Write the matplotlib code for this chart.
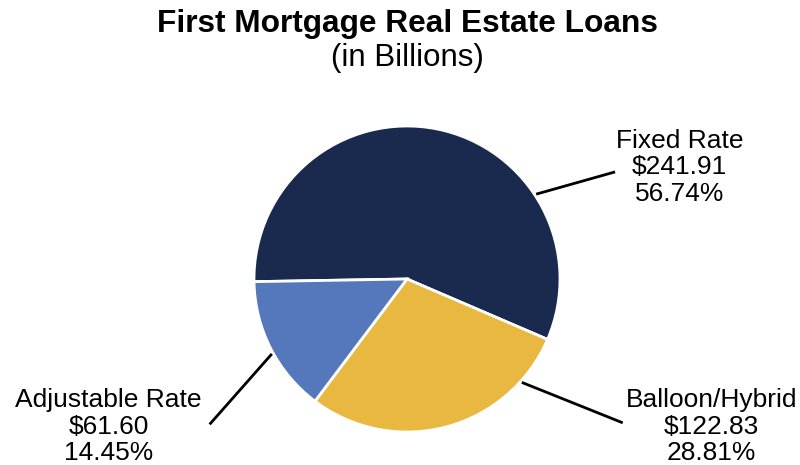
import numpy as np
import matplotlib.pyplot as plt

plt.rcParams['font.family'] = ['Liberation Sans', 'DejaVu Sans']

# data
categories = ['Fixed Rate', 'Balloon/Hybrid', 'Adjustable Rate']
amounts = [241.91, 122.83, 61.60]
percents = [56.74, 28.81, 14.45]
colors = ['#1a2a4e', '#e9b840', '#5577bb']

# label placement (in pie-radius units) and leader-line anchor angles
label_pos = [(1.78, 0.73), (1.99, -0.965), (-1.95, -0.965)]
line_end = [(1.36, 0.70), (1.41, -0.94), (-1.29, -0.95)]
anchor_deg = [33.3, -42.0, -151.0]

fig = plt.figure(figsize=(8, 4.65), dpi=100)
ax = fig.add_axes([0, 0, 1, 1])

ax.pie(percents, colors=colors, startangle=181, counterclock=False,
       radius=1, wedgeprops=dict(edgecolor='white', linewidth=2))

for cat, amt, pct, pos, end, ang in zip(categories, amounts, percents,
                                         label_pos, line_end, anchor_deg):
    a = np.deg2rad(ang)
    ax.plot([1.01 * np.cos(a), end[0]], [1.01 * np.sin(a), end[1]],
            color='black', lw=2, solid_capstyle='butt')
    ax.text(pos[0], pos[1], f'{cat}\n${amt:.2f}\n{pct:.2f}%',
            ha='center', va='center', fontsize=19, linespacing=1.12)

ax.set_xlim(-407 / 153, 393 / 153)
ax.set_ylim(-186 / 153, 279 / 153)
ax.set_aspect('equal')
ax.axis('off')

fig.text(0.509, 0.948, 'First Mortgage Real Estate Loans', ha='center',
         va='center', fontsize=22.8, fontweight='bold')
fig.text(0.509, 0.876, '(in Billions)', ha='center', va='center', fontsize=22.5)

fig.savefig('out.png', dpi=100)
